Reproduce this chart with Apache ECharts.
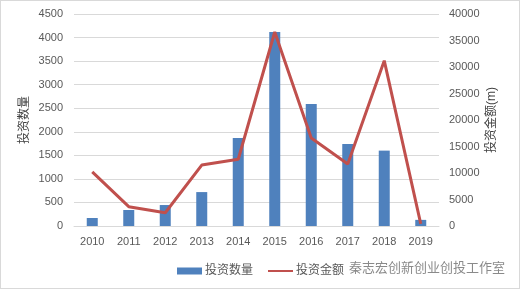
<!DOCTYPE html>
<html>
<head>
<meta charset="utf-8">
<script src="https://cdn.jsdelivr.net/npm/echarts@6/dist/echarts.min.js"></script>
<style>
  html, body { margin: 0; padding: 0; background: #fff; }
  #chart { width: 518px; height: 287px; border: 1px solid #d9d9d9; }
</style>
</head>
<body>
<div id="chart"></div>
<script>
const years = ["2010", "2011", "2012", "2013", "2014", "2015", "2016", "2017", "2018", "2019"];
const dealCount = [170, 340, 445, 720, 1870, 4120, 2590, 1740, 1600, 130];
const dealAmount = [10200, 3650, 2500, 11500, 12600, 36600, 16600, 11700, 31200, 400];

const FONT = "'Liberation Sans', 'Noto Sans CJK SC', sans-serif";
const LABEL = "#595959";
const GRID = "#d9d9d9";

const plain = (v) => String(v);

const chart = echarts.init(document.getElementById("chart"), null, { renderer: "canvas" });
chart.setOption({
  backgroundColor: "#fff",
  animation: false,
  textStyle: { fontFamily: FONT },
  grid: { left: 73, right: 80, top: 13, bottom: 62 },
  legend: {
    left: 171,
    top: 259,
    itemGap: 14,
    itemWidth: 25,
    itemHeight: 7,
    textStyle: { color: LABEL, fontSize: 12, fontFamily: FONT, padding: [0, 0, 0, -2] },
    data: [
      { name: "投资数量", icon: "rect" },
      { name: "投资金额", itemStyle: { opacity: 0 } },
    ],
  },
  xAxis: {
    type: "category",
    data: years,
    axisLine: { lineStyle: { color: GRID } },
    axisTick: { show: false },
    axisLabel: { color: LABEL, fontSize: 11, margin: 10 },
  },
  yAxis: [
    {
      type: "value",
      min: 0,
      max: 4500,
      interval: 500,
      name: "投资数量",
      nameLocation: "middle",
      nameRotate: 90,
      nameGap: 43,
      nameMoveOverlap: false,
      nameTextStyle: { color: "#404040", fontSize: 12 },
      axisLabel: { color: LABEL, fontSize: 11, margin: 11, formatter: plain },
      splitLine: { lineStyle: { color: GRID } },
      axisLine: { show: false },
      axisTick: { show: false },
    },
    {
      type: "value",
      min: 0,
      max: 40000,
      interval: 5000,
      position: "right",
      name: "投资金额(m)",
      nameLocation: "middle",
      nameRotate: 90,
      nameGap: 47,
      nameMoveOverlap: false,
      nameTextStyle: { color: "#404040", fontSize: 12 },
      axisLabel: { color: LABEL, fontSize: 11, margin: 10, formatter: plain },
      splitLine: { show: false },
      axisLine: { show: false },
      axisTick: { show: false },
    },
  ],
  series: [
    {
      name: "投资数量",
      type: "bar",
      yAxisIndex: 0,
      data: dealCount,
      barWidth: 11,
      itemStyle: { color: "#4f81bd" },
    },
    {
      name: "投资金额",
      type: "line",
      yAxisIndex: 1,
      data: dealAmount,
      symbol: "none",
      lineStyle: { color: "#c0504d", width: 3 },
      itemStyle: { color: "#c0504d" },
    },
  ],
  graphic: [
    {
      type: "text",
      left: 348,
      top: 260,
      style: {
        text: "秦志宏创新创业创投工作室",
        fill: "#8a8a8a",
        font: "13px 'Noto Sans CJK SC', sans-serif",
      },
    },
  ],
});
</script>
</body>
</html>
